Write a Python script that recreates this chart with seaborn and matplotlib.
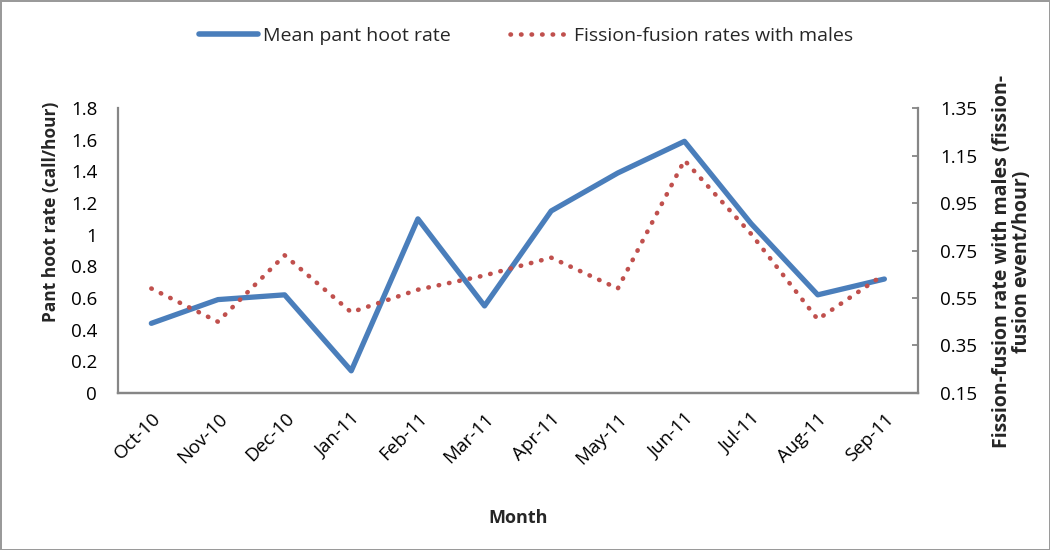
import pandas as pd
import matplotlib.pyplot as plt
import seaborn as sns
from matplotlib.lines import Line2D


months = ['Oct-10', 'Nov-10', 'Dec-10', 'Jan-11', 'Feb-11', 'Mar-11',
          'Apr-11', 'May-11', 'Jun-11', 'Jul-11', 'Aug-11', 'Sep-11']
pant_hoot = [0.44, 0.59, 0.62, 0.14, 1.10, 0.55, 1.15, 1.39, 1.59, 1.07, 0.62, 0.72]
fission = [0.59, 0.45, 0.73, 0.49, 0.585, 0.645, 0.72, 0.59, 1.13, 0.82, 0.46, 0.65]
left_ticks = [0, 0.2, 0.4, 0.6, 0.8, 1, 1.2, 1.4, 1.6, 1.8]
right_ticks = [0.15, 0.35, 0.55, 0.75, 0.95, 1.15, 1.35]

df = pd.DataFrame({'Month': months, 'Pant': pant_hoot, 'Fission': fission})

sns.set_theme(style="white")
plt.rcParams['font.family'] = ['Open Sans', 'DejaVu Sans']

blue = '#4a7ebb'
red = '#c0504d'
axis_grey = '#868686'

fig = plt.figure(figsize=(10.5, 5.5), dpi=100)
fig.patch.set_edgecolor('#9a9a9a')
fig.patch.set_linewidth(2)
ax1 = fig.add_axes([0.1124, 0.2855, 0.7616, 0.518])
ax2 = ax1.twinx()

sns.lineplot(data=df, x='Month', y='Pant', color=blue, linewidth=3.8,
             sort=False, ax=ax1, solid_capstyle='round', legend=False)
sns.lineplot(data=df, x='Month', y='Fission', color=red, linewidth=3.3,
             sort=False, ax=ax2, legend=False)
ax2.lines[0].set_linestyle((0, (0.1, 2.2)))
ax2.lines[0].set_dash_capstyle('round')

ax1.set_xlim(-0.5, len(months) - 0.5)
ax1.set_ylim(0, 1.8)
ax2.set_ylim(0.15, 1.35)
ax1.set_yticks(left_ticks)
ax1.set_yticklabels([f'{v:g}' for v in left_ticks])
ax2.set_yticks(right_ticks)
ax2.set_yticklabels([f'{v:g}' for v in right_ticks])

ax1.set_xticks(range(len(months)))
ax1.set_xticklabels(months, rotation=45, ha='right', rotation_mode='anchor')

for ax in (ax1, ax2):
    for side, sp in ax.spines.items():
        sp.set_color(axis_grey)
        sp.set_linewidth(1.6)
    ax.spines['top'].set_visible(False)
    ax.tick_params(axis='both', labelsize=13.5, colors='black', length=0)
    ax.grid(False)
ax1.spines['right'].set_visible(False)
ax2.spines['left'].set_visible(False)
ax1.tick_params(axis='x', pad=12)
ax1.tick_params(axis='y', pad=15)
ax2.tick_params(axis='y', right=True, length=4, direction='in',
                color=axis_grey, width=1.3, pad=16)

ax1.set_xlabel('Month', fontsize=13, fontweight='bold', labelpad=30)
ax1.set_ylabel('Pant hoot rate (call/hour)', fontsize=12.5, fontweight='bold')
ax1.yaxis.set_label_coords(-0.072, 0.635)
ax2.set_ylabel('Fission-fusion rate with males (fission-\nfusion event/hour)',
               fontsize=14, fontweight='bold', rotation=90, linespacing=1.0)
ax2.yaxis.set_label_coords(1.093, 0.46)

handles = [Line2D([], [], color=blue, linewidth=4, solid_capstyle='round'),
           Line2D([], [], color=red, linewidth=3.3, linestyle=(0, (0.1, 2.2)),
                  dash_capstyle='round')]
fig.legend(handles, ['Mean pant hoot rate', 'Fission-fusion rates with males'],
           loc='center', bbox_to_anchor=(0.501, 0.935), ncol=2, frameon=False,
           fontsize=14, handlelength=3.0, columnspacing=3, handletextpad=0.3)

plt.savefig('out.png', dpi=100, edgecolor=fig.patch.get_edgecolor())
